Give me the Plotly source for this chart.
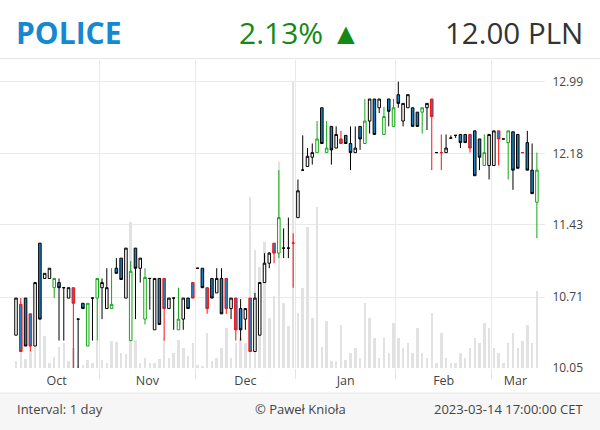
import math
import pandas as pd
import plotly.graph_objects as go

# ---------------- data ----------------
holidays = ["2022-11-01", "2022-11-11", "2022-12-26", "2023-01-06"]
dates = pd.bdate_range("2022-10-06", "2023-03-14", freq="C", holidays=holidays)

open_ = [10.35, 10.64, 10.70, 10.55, 10.25, 11.24, 10.89, 10.89, 10.80, 10.85,
         10.80, 10.70, 10.80, 10.50, 10.65, 10.25, 10.70, 10.70, 10.80, 10.60,
         10.60, 10.99, 11.09, 10.70, 10.30, 11.19, 10.99, 10.50, 10.89, 10.40,
         10.89, 10.89, 10.60, 10.70, 10.40, 10.50, 10.70, 10.85, 10.99, 10.99,
         10.80, 10.89, 10.75, 10.89, 10.89, 10.60, 10.70, 10.60, 10.50, 10.70,
         10.20, 10.35, 10.85, 11.04, 11.24, 11.14, 11.19, 11.19, 11.24, 11.50,
         12.00, 12.04, 12.14, 12.19, 12.69, 12.19, 12.48, 12.24, 12.34, 12.38,
         12.29, 12.19, 12.48, 12.29, 12.54, 12.79, 12.69, 12.39, 12.79, 12.48,
         12.84, 12.54, 12.69, 12.69, 12.64, 12.64, 12.69, 12.79, 12.19, 12.19,
         12.19, 12.35, 12.38, 12.39, 12.39, 12.39, 12.43, 12.34, 12.05, 12.05,
         12.05, 12.43, 12.34, 12.30, 12.42, 12.39, 12.19, 12.30, 12.00, 11.66]
high = [10.70, 10.70, 10.70, 10.55, 10.85, 11.24, 10.94, 10.99, 10.89, 10.89,
        10.80, 10.80, 10.80, 10.50, 10.65, 10.65, 10.70, 10.89, 10.89, 10.99,
        10.99, 11.09, 11.09, 11.19, 11.06, 11.19, 11.09, 10.99, 10.89, 10.89,
        10.89, 10.89, 10.70, 10.70, 10.80, 10.70, 10.70, 10.85, 10.99, 10.99,
        10.80, 10.89, 10.99, 10.99, 10.89, 10.70, 10.70, 10.69, 10.60, 10.70,
        10.75, 10.85, 11.14, 11.15, 11.24, 12.00, 11.39, 11.50, 11.34, 11.90,
        12.38, 12.24, 12.29, 12.54, 12.69, 12.54, 12.48, 12.48, 12.43, 12.38,
        12.48, 12.48, 12.48, 12.79, 12.79, 12.79, 12.79, 12.70, 12.79, 12.79,
        12.99, 12.74, 12.84, 12.69, 12.64, 12.69, 12.74, 12.79, 12.19, 12.39,
        12.39, 12.38, 12.38, 12.39, 12.39, 12.39, 12.43, 12.34, 12.39, 12.39,
        12.43, 12.43, 12.34, 12.43, 12.42, 12.39, 12.19, 12.43, 12.29, 12.19]
low = [10.35, 10.20, 10.25, 10.20, 10.25, 10.50, 10.89, 10.89, 10.70, 10.30,
       10.30, 10.70, 9.95, 9.98, 10.60, 10.25, 10.30, 10.30, 10.50, 10.60,
       10.60, 10.94, 10.88, 10.70, 10.30, 10.50, 10.85, 10.45, 10.59, 10.40,
       10.45, 10.30, 10.60, 10.40, 10.40, 10.40, 10.60, 10.70, 10.99, 10.80,
       10.55, 10.70, 10.75, 10.55, 10.55, 10.50, 10.30, 10.30, 10.40, 10.20,
       10.20, 10.35, 10.85, 10.99, 11.04, 11.09, 11.09, 11.09, 10.80, 11.50,
       12.00, 12.04, 12.06, 12.19, 12.29, 12.19, 12.06, 12.24, 12.29, 12.29,
       12.00, 12.19, 12.22, 12.29, 12.40, 12.39, 12.63, 12.39, 12.48, 12.48,
       12.69, 12.48, 12.69, 12.48, 12.48, 12.40, 12.44, 12.00, 12.19, 12.00,
       12.19, 12.35, 12.35, 12.24, 12.30, 12.19, 11.94, 12.00, 12.05, 11.90,
       12.05, 12.05, 12.34, 11.90, 11.79, 12.02, 12.19, 12.00, 11.75, 11.29]
close = [10.70, 10.20, 10.25, 10.25, 10.85, 10.50, 10.94, 10.99, 10.89, 10.80,
         10.80, 10.80, 10.65, 10.50, 10.60, 10.65, 10.70, 10.89, 10.85, 10.80,
         10.64, 10.94, 10.88, 11.19, 10.96, 10.99, 11.09, 10.90, 10.89, 10.89,
         10.45, 10.60, 10.70, 10.70, 10.50, 10.70, 10.60, 10.70, 10.99, 10.80,
         10.60, 10.70, 10.89, 10.55, 10.60, 10.70, 10.40, 10.40, 10.60, 10.20,
         10.70, 10.85, 11.04, 11.14, 11.14, 11.50, 11.19, 11.19, 11.24, 11.78,
         12.00, 12.15, 12.19, 12.34, 12.29, 12.24, 12.22, 12.39, 12.29, 12.29,
         12.19, 12.24, 12.34, 12.54, 12.79, 12.39, 12.79, 12.59, 12.65, 12.69,
         12.74, 12.74, 12.84, 12.48, 12.48, 12.69, 12.74, 12.59, 12.19, 12.19,
         12.24, 12.35, 12.38, 12.30, 12.30, 12.24, 11.94, 12.14, 12.19, 12.39,
         12.43, 12.34, 12.34, 12.43, 12.00, 12.02, 12.19, 12.00, 11.75, 12.00]
# candle outline colour class: k = black, r = red, g = green
candle_class = list(
    "krkrkkkkgk" "kkrkkgkgkk" "gkkkgkkgkk" "krkkgkkrkk"
    "rkkkrkrkkr" "kkkkrgkkrk" "kkkgkgkkrk" "kkkgkkkgkg"
    "kkkkkgkrkr" "kkkkkrkkgk" "krkgkkrkkg"
)
volume = [7, 17, 9, 17, 23, 48, 32, 5, 11, 21,
          25, 7, 20, 3, 3, 8, 5, 27, 8, 5,
          27, 26, 15, 14, 146, 28, 5, 10, 5, 5,
          9, 30, 10, 15, 28, 20, 12, 25, 3, 2,
          35, 7, 10, 20, 40, 10, 25, 30, 25, 171,
          118, 101, 126, 50, 72, 206, 65, 42, 286, 55,
          80, 141, 50, 161, 21, 47, 7, 7, 43, 8,
          15, 20, 10, 65, 50, 30, 10, 30, 15, 45,
          30, 20, 25, 15, 40, 15, 10, 55, 5, 35,
          10, 5, 5, 15, 10, 20, 30, 25, 45, 40,
          20, 15, 5, 25, 35, 20, 27, 43, 25, 77]
price_ticks = [10.05, 10.71, 11.43, 12.18, 12.99]

ticker = "POLICE"
change_text = "2.13% \u25B2"
last_text = "12.00 PLN"
footer_left = "Interval: 1 day"
footer_mid = "\u00A9 Pawe\u0142 Knio\u0142a"
footer_right = "2023-03-14 17:00:00 CET"

# ---------------- layout geometry ----------------
W, H = 600, 430
M_L, M_R, M_T, M_B = 0, 55, 60, 62
PW, PH = W - M_L - M_R, H - M_T - M_B
PLOT_BOTTOM = H - M_B


def py(Y):
    return (PLOT_BOTTOM - Y) / PH


def px(X):
    return (X - M_L) / PW


n = len(dates)
idx = list(range(n))
months = pd.Series(idx, index=dates).groupby([dates.year, dates.month])
month_centers = [float(g.mean()) for _, g in months]
month_names = [dates[g.iloc[0]].strftime("%b") for _, g in months]
month_bounds = [g.iloc[0] - 0.5 for _, g in months][1:]

BLUE = "#1a80c4"
COLORS = {"k": "#000000", "r": "#ff0f0f", "g": "#12a812"}

fig = go.Figure()

fig.add_trace(go.Bar(
    x=idx, y=volume, marker=dict(color="#e2e2e2", line=dict(width=0)),
    width=0.52, yaxis="y", hoverinfo="skip", showlegend=False,
))

for cls, col in COLORS.items():
    sel = [c == cls for c in candle_class]
    fig.add_trace(go.Candlestick(
        x=idx,
        open=[v if s else None for v, s in zip(open_, sel)],
        high=[v if s else None for v, s in zip(high, sel)],
        low=[v if s else None for v, s in zip(low, sel)],
        close=[v if s else None for v, s in zip(close, sel)],
        increasing=dict(line=dict(color=col, width=1), fillcolor="white"),
        decreasing=dict(line=dict(color=col, width=1), fillcolor=BLUE),
        whiskerwidth=0, yaxis="y2", showlegend=False,
        text=[d.strftime("%Y-%m-%d") for d in dates],
    ))

ylo = math.log10(10.05)
yhi = ylo + PH / 2569.0

font_family = "Open Sans, Noto Sans, sans-serif"
fig.update_layout(
    width=W, height=H,
    margin=dict(l=M_L, r=M_R, t=M_T, b=M_B, pad=0),
    paper_bgcolor="white", plot_bgcolor="white",
    font=dict(family=font_family, size=12, color="#444444"),
    showlegend=False, boxgap=0.24, bargap=0,
    xaxis=dict(
        range=[-3.35, n + 0.7], rangeslider=dict(visible=False),
        tickmode="array", tickvals=month_centers, ticktext=month_names,
        showgrid=False, zeroline=False, showline=False,
        ticks="outside", ticklen=1, tickcolor="rgba(0,0,0,0)",
        tickfont=dict(size=12.5, color="#444444"),
        minor=dict(tickmode="array", tickvals=month_bounds, showgrid=True,
                   gridcolor="#e9e9e9", gridwidth=1,
                   ticks="outside", ticklen=10, tickcolor="#e3e3e3"),
    ),
    yaxis=dict(range=[0, PH], visible=False, showgrid=False, fixedrange=True),
    yaxis2=dict(
        overlaying="y", side="right", type="log", range=[ylo, yhi],
        tickmode="array", tickvals=price_ticks,
        ticktext=[f"{v:.2f}" for v in price_ticks],
        showgrid=True, gridcolor="#e9e9e9", gridwidth=1,
        zeroline=False, showline=False,
        ticks="outside", ticklen=4, tickcolor="rgba(0,0,0,0)",
        tickfont=dict(size=12, color="#444444"),
    ),
)

shapes = [
    dict(type="line", xref="paper", yref="paper", x0=px(0), x1=px(W),
         y0=py(58.5), y1=py(58.5), line=dict(color="#e6e6e6", width=1)),
    dict(type="rect", xref="paper", yref="paper", x0=px(0), x1=px(W),
         y0=py(H), y1=py(393), fillcolor="#f6f6f6", line=dict(width=0),
         layer="below"),
    dict(type="line", xref="paper", yref="paper", x0=px(0), x1=px(W),
         y0=py(393), y1=py(393), line=dict(color="#e6e6e6", width=1)),
]
fig.update_layout(shapes=shapes)

annotations = [
    dict(text=f"<b>{ticker}</b>", x=px(14), y=py(32), xanchor="left",
         yanchor="middle", font=dict(size=30, color="#1589cf", family=font_family)),
    dict(text=change_text, x=px(300), y=py(32), xanchor="center",
         yanchor="middle", font=dict(size=30, color="#138a13", family=font_family)),
    dict(text=last_text, x=px(585), y=py(32), xanchor="right",
         yanchor="middle", font=dict(size=29.5, color="#333333", family=font_family)),
    dict(text=footer_left, x=px(15), y=py(408.5), xanchor="left",
         yanchor="middle", font=dict(size=13, color="#444444")),
    dict(text=footer_mid, x=px(300), y=py(408.5), xanchor="center",
         yanchor="middle", font=dict(size=13, color="#444444")),
    dict(text=footer_right, x=px(585), y=py(408.5), xanchor="right",
         yanchor="middle", font=dict(size=13, color="#444444")),
]
for a in annotations:
    a.update(xref="paper", yref="paper", showarrow=False)
fig.update_layout(annotations=annotations)

fig.write_html("out.html")
